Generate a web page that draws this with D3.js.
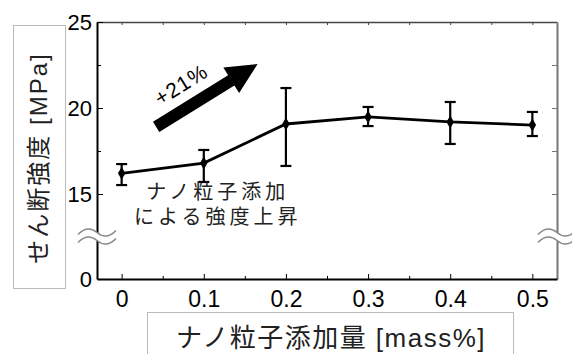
<!DOCTYPE html>
<html>
<head>
<meta charset="utf-8">
<script src="https://cdn.jsdelivr.net/npm/d3@7"></script>
<style>
  body { margin: 0; background: #fff; }
  svg { font-family: "Liberation Sans", Arial, "Noto Sans CJK JP", sans-serif; }
</style>
</head>
<body>
<div class="chart"></div>
<script>
// nano particle loading [mass%] vs shear strength [MPa]
const loadings = [0, 0.1, 0.2, 0.3, 0.4, 0.5];
const strength = [16.2, 16.8, 19.07, 19.48, 19.19, 19.01];
const errHigh  = [16.74, 17.56, 21.16, 20.06, 20.35, 19.77];
const errLow   = [15.52, 15.70, 16.63, 18.95, 17.91, 18.37];

const xTicks = [0, 0.1, 0.2, 0.3, 0.4, 0.5];
const xMinor = [0.05, 0.15, 0.25, 0.35, 0.45];
const yTicks = [0, 15, 20, 25];
const yMinor = [17.5, 22.5];
const yRightTicks = [15, 17.5, 20, 22.5];

const yTitle = "せん断強度 [MPa]";
const xTitle = "ナノ粒子添加量 [mass%]";
const noteLines = ["ナノ粒子添加", "による強度上昇"];
const arrowText = "+21%";

function main(){
  const margin = {top: 22, right: 15, bottom: 75, left: 97};
  const W = 572, H = 354;
  const width = W - margin.left - margin.right;
  const height = H - margin.top - margin.bottom;

  const svg = d3.select(".chart").append("svg")
      .attr("width", W).attr("height", H);

  // axis title boxes
  svg.append("rect")
      .attr("x", 13.5).attr("y", 25.5).attr("width", 52).attr("height", 263)
      .attr("fill", "#fff").attr("stroke", "#bbb").attr("stroke-width", 1);
  svg.append("text")
      .attr("transform", "translate(47,158) rotate(-90)")
      .attr("text-anchor", "middle")
      .attr("font-family", "'Liberation Sans', Arial, 'Noto Sans CJK JP', sans-serif")
      .attr("font-size", 24).attr("letter-spacing", 2)
      .attr("fill", "#222")
      .text(yTitle);

  svg.append("rect")
      .attr("x", 147.5).attr("y", 312.5).attr("width", 366).attr("height", 60)
      .attr("fill", "#fff").attr("stroke", "#bbb").attr("stroke-width", 1);
  svg.append("text")
      .attr("x", 331).attr("y", 347)
      .attr("text-anchor", "middle")
      .attr("font-family", "'Liberation Sans', Arial, 'Noto Sans CJK JP', sans-serif")
      .attr("font-size", 26).attr("letter-spacing", 1.5)
      .attr("fill", "#222")
      .text(xTitle);

  const g = svg.append("g")
      .attr("transform", "translate(" + margin.left + "," + margin.top + ")");

  const xScale = d3.scaleLinear().domain([-0.03, 0.53]).range([0, width]);
  // broken axis: 0..15 squeezed into the lower part
  const yScale = d3.scaleLinear().domain([0, 15, 25]).range([height, height - 85, 0]);

  // top + right frame (grey)
  const topAxis = g.append("g")
      .call(d3.axisTop(xScale).tickValues(xTicks.concat(xMinor)).tickSize(-3).tickSizeOuter(0).tickFormat(""));
  topAxis.select(".domain").attr("stroke", "#444").attr("stroke-width", 1.5);
  topAxis.selectAll(".tick line").attr("stroke", "#444");

  const rightAxis = g.append("g")
      .attr("transform", `translate(${width},0)`)
      .call(d3.axisRight(yScale).tickValues(yRightTicks).tickSize(-5).tickSizeOuter(0).tickFormat(""));
  rightAxis.select(".domain").attr("stroke", "#777").attr("stroke-width", 2);
  rightAxis.selectAll(".tick line").attr("stroke", "#777");

  // bottom axis
  const xAxis = g.append("g")
      .attr("transform", `translate(0,${height})`)
      .call(d3.axisBottom(xScale).tickValues(xTicks).tickSize(-5).tickSizeOuter(0)
        .tickPadding(12).tickFormat(d => d === 0 ? "0" : d3.format(".1f")(d)));
  xAxis.append("g").call(d3.axisBottom(xScale).tickValues(xMinor).tickSize(-3).tickFormat(""))
      .select(".domain").remove();
  xAxis.select(".domain").attr("stroke", "#000").attr("stroke-width", 2);
  xAxis.selectAll("text").attr("font-size", 23).attr("fill", "#000")
      .attr("font-family", "'Liberation Sans', Arial, sans-serif");

  // left axis
  const yAxis = g.append("g")
      .call(d3.axisLeft(yScale).tickValues(yTicks).tickSize(-6).tickSizeOuter(0)
        .tickPadding(5).tickFormat(d3.format("d")));
  yAxis.append("g").call(d3.axisLeft(yScale).tickValues(yMinor).tickSize(-4).tickFormat(""))
      .select(".domain").remove();
  yAxis.select(".domain").attr("stroke", "#000").attr("stroke-width", 2);
  yAxis.selectAll("text").attr("font-size", 22).attr("fill", "#000")
      .attr("font-family", "'Liberation Sans', Arial, sans-serif");
  yAxis.selectAll(".tick").filter(d => d === 0).select("line").remove();

  // axis break marks
  function breakMark(cx, cy){
    const w = 19, a = 8, gap = 4;
    const wave = (o) => `M${cx - w},${cy + o + 2} Q${cx - w / 2},${cy + o - a} ${cx},${cy + o} T${cx + w},${cy + o - 2}`;
    const wb = g.append("g");
    wb.append("path")
        .attr("d", `M${cx - w},${cy - gap + 2} Q${cx - w / 2},${cy - gap - a} ${cx},${cy - gap} T${cx + w},${cy - gap - 2}` +
                   `L${cx + w},${cy + gap - 2} Q${cx + w / 2},${cy + gap + a} ${cx},${cy + gap} T${cx - w},${cy + gap + 2}Z`)
        .attr("fill", "#fff");
    [-gap, gap].forEach(o => {
      wb.append("path").attr("d", wave(o))
          .attr("fill", "none").attr("stroke", "#888").attr("stroke-width", 1.5);
    });
  }
  breakMark(0, yScale(7.5));
  breakMark(width, yScale(7.5));

  // data
  const data = loadings.map((x, i) => ({x: x, y: strength[i], hi: errHigh[i], lo: errLow[i]}));

  const line = d3.line().x(d => xScale(d.x)).y(d => yScale(d.y));
  g.append("path").datum(data)
      .attr("d", line)
      .attr("fill", "none").attr("stroke", "#000").attr("stroke-width", 2.8);

  const eb = g.selectAll(".err").data(data).enter().append("g").attr("class", "err")
      .attr("stroke", "#000").attr("stroke-width", 2.2);
  eb.append("line")
      .attr("x1", d => xScale(d.x)).attr("x2", d => xScale(d.x))
      .attr("y1", d => yScale(d.hi)).attr("y2", d => yScale(d.lo));
  eb.append("line")
      .attr("x1", d => xScale(d.x) - 5.5).attr("x2", d => xScale(d.x) + 5.5)
      .attr("y1", d => yScale(d.hi)).attr("y2", d => yScale(d.hi));
  eb.append("line")
      .attr("x1", d => xScale(d.x) - 5.5).attr("x2", d => xScale(d.x) + 5.5)
      .attr("y1", d => yScale(d.lo)).attr("y2", d => yScale(d.lo));

  g.selectAll(".pt").data(data).enter().append("path")
      .attr("class", "pt")
      .attr("transform", d => `translate(${xScale(d.x)},${yScale(d.y)})`)
      .attr("d", d3.symbol(d3.symbolDiamond).size(48))
      .attr("fill", "#000");

  // +21% arrow
  const tail = [0.042, 18.9], tip = [0.1655, 22.56];
  const x0 = xScale(tail[0]), y0 = yScale(tail[1]);
  const x1 = xScale(tip[0]), y1 = yScale(tip[1]);
  const len = Math.hypot(x1 - x0, y1 - y0);
  const ang = Math.atan2(y1 - y0, x1 - x0) * 180 / Math.PI;
  const headL = 31, headW = 15, shaftW = 6;
  g.append("path")
      .attr("transform", `translate(${x0},${y0}) rotate(${ang})`)
      .attr("d", `M0,${-shaftW} L${len - headL},${-shaftW} L${len - headL},${-headW} L${len},0 L${len - headL},${headW} L${len - headL},${shaftW} L0,${shaftW}Z`)
      .attr("fill", "#000");
  g.append("text")
      .attr("transform", `translate(${xScale(0.077)},${yScale(21.0)}) rotate(${ang})`)
      .attr("text-anchor", "middle")
      .attr("font-size", 21).attr("letter-spacing", 1)
      .attr("font-family", "'Liberation Sans', Arial, sans-serif")
      .attr("fill", "#000")
      .text(arrowText);

  // note text
  g.append("g").selectAll("text").data(noteLines).enter().append("text")
      .attr("x", xScale(0.117)).attr("y", (d, i) => yScale(14.2) + i * 25)
      .attr("text-anchor", "middle")
      .attr("font-family", "'Noto Sans CJK JP', sans-serif")
      .attr("font-size", 20).attr("letter-spacing", 4)
      .attr("fill", "#222")
      .text(d => d);
}

main();
</script>
</body>
</html>
